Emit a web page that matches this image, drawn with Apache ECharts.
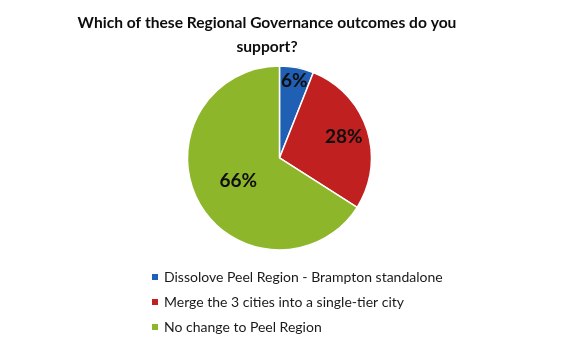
<!DOCTYPE html>
<html>
<head>
<meta charset="utf-8">
<script src="https://cdn.jsdelivr.net/npm/echarts@6/dist/echarts.min.js"></script>
<style>
  html, body { margin: 0; padding: 0; background: #fff; }
  #chart { width: 583px; height: 347px; }
</style>
</head>
<body>
<div id="chart"></div>
<script>
// Survey answers and their shares (percent)
const categories = [
  'Dissolove Peel Region - Brampton standalone',
  'Merge the 3 cities into a single-tier city',
  'No change to Peel Region'
];
const shares = [6, 28, 66];
const colors = ['#1F5FB4', '#C0201F', '#8DB62A'];
// how far out each percentage sits, relative to the default inside spot
const labelReach = [1.6, 1.38, 0.96];

const chart = echarts.init(document.getElementById('chart'));
const W = 583, H = 347;
const cx = W * 0.4794, cy = H * 0.4553;

chart.setOption({
  animation: false,
  textStyle: { fontFamily: 'Lato' },
  title: {
    text: 'Which of these Regional Governance outcomes do you\nsupport?',
    left: 262,
    top: 6,
    textAlign: 'center',
    textStyle: { fontFamily: 'Lato', fontWeight: 'bold', fontSize: 15.6, color: '#0d0d0d', lineHeight: 24 }
  },
  legend: {
    orient: 'vertical',
    left: 145,
    top: 265,
    itemWidth: 8,
    itemHeight: 8,
    itemGap: 11,
    icon: 'rect',
    textStyle: { fontFamily: 'Lato', fontSize: 14, color: '#1a1a1a', padding: [0, 0, 0, 0] },
    data: categories
  },
  series: [{
    type: 'pie',
    center: [cx, cy],
    radius: 92,
    startAngle: 90,
    clockwise: true,
    itemStyle: { borderColor: '#fff', borderWidth: 1.5 },
    label: {
      show: true,
      position: 'inside',
      formatter: '{c}%',
      fontFamily: 'Lato',
      fontWeight: 'bold',
      fontSize: 19,
      color: '#0f0f0f'
    },
    labelLine: { show: false },
    labelLayout: function (p) {
      const k = labelReach[p.dataIndex];
      const lx = p.labelRect.x + p.labelRect.width / 2;
      const ly = p.labelRect.y + p.labelRect.height / 2;
      return {
        x: cx + (lx - cx) * k,
        y: cy + (ly - cy) * k,
        align: 'center',
        verticalAlign: 'middle'
      };
    },
    data: categories.map((name, i) => ({
      name: name,
      value: shares[i],
      itemStyle: { color: colors[i] }
    }))
  }]
});
</script>
</body>
</html>
